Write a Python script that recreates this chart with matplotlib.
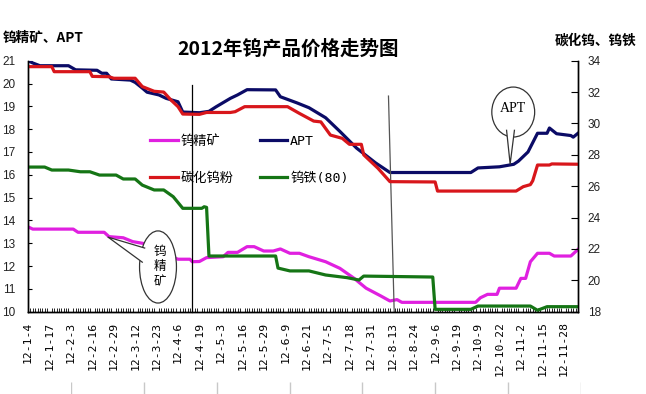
import matplotlib
matplotlib.use('Agg')
import matplotlib.pyplot as plt
from matplotlib.patches import Ellipse, Polygon

# trading-day index -> price
conc_idx = [0, 2, 19, 21, 32, 34, 40, 44, 48, 52, 58, 63, 68, 69, 72, 75, 82, 84, 88, 92, 95, 99, 103, 106,
            110, 114, 118, 125, 131, 137, 142, 148, 152, 155, 157, 188, 190, 193, 197, 198, 205, 207, 209,
            211, 214, 219, 221, 228, 231]
conc = [13.72, 13.62, 13.62, 13.48, 13.48, 13.29, 13.24, 13.07, 13.0, 12.9, 12.5, 12.3, 12.3, 12.19, 12.2,
        12.37, 12.41, 12.6, 12.6, 12.85, 12.85, 12.66, 12.66, 12.75, 12.56, 12.56, 12.41, 12.19, 11.9, 11.46,
        11.03, 10.7, 10.47, 10.53, 10.41, 10.41, 10.61, 10.76, 10.76, 11.03, 11.03, 11.46, 11.46, 12.19,
        12.56, 12.56, 12.44, 12.44, 12.73]

apt_idx = [0, 2, 5, 17, 20, 29, 31, 33, 35, 43, 45, 48, 50, 55, 58, 63, 65, 72, 76, 79, 85, 88, 92, 104,
           106, 113, 118, 125, 131, 138, 146, 152, 186, 189, 198, 204, 206, 210, 214, 218, 219, 222, 228,
           229, 231]
apt = [21.0, 20.9, 20.78, 20.78, 20.6, 20.58, 20.45, 20.45, 20.2, 20.15, 20.05, 19.8, 19.62, 19.5, 19.35,
       19.2, 18.75, 18.72, 18.78, 18.98, 19.35, 19.5, 19.73, 19.72, 19.42, 19.15, 18.94, 18.5, 17.9, 17.17,
       16.52, 16.1, 16.1, 16.3, 16.35, 16.46, 16.6, 17.0, 17.82, 17.82, 18.05, 17.8, 17.72, 17.65, 17.82]

wc_idx = [0, 10, 11, 26, 27, 34, 36, 45, 48, 53, 57, 60, 63, 65, 72, 75, 85, 87, 91, 109, 114, 120, 123,
          127, 132, 135, 140, 141, 147, 152, 171, 172, 205, 208, 211, 212, 214, 219, 220, 231]
wc = [33.62, 33.62, 33.3, 33.3, 33.0, 32.98, 32.88, 32.88, 32.35, 32.05, 32.0, 31.5, 31.07, 30.6, 30.58,
      30.7, 30.7, 30.75, 31.07, 31.07, 30.64, 30.15, 30.1, 29.26, 29.05, 28.67, 28.67, 28.0, 27.14, 26.29,
      26.27, 25.69, 25.69, 25.97, 26.1, 26.35, 27.35, 27.35, 27.42, 27.4]

fe_idx = [0, 7, 10, 17, 22, 26, 30, 37, 40, 45, 48, 53, 57, 61, 65, 73, 74, 75, 76, 104, 105, 110, 118,
          125, 134, 139, 141, 170, 171, 186, 189, 211, 214, 218, 231]
fe = [27.22, 27.22, 27.03, 27.03, 26.92, 26.92, 26.71, 26.71, 26.46, 26.46, 26.07, 25.76, 25.76, 25.33,
      24.59, 24.59, 24.69, 24.65, 21.55, 21.55, 20.78, 20.6, 20.6, 20.34, 20.17, 20.02, 20.27, 20.21,
      18.15, 18.15, 18.36, 18.36, 18.09, 18.32, 18.32]

n_days = 232
date_labels = ['12-1-4', '12-1-17', '12-2-3', '12-2-16', '12-2-29', '12-3-12', '12-3-23', '12-4-6',
               '12-4-19', '12-5-3', '12-5-16', '12-5-29', '12-6-9', '12-6-21', '12-7-5', '12-7-18',
               '12-7-31', '12-8-13', '12-8-24', '12-9-6', '12-9-19', '12-10-9', '12-10-22', '12-11-2',
               '12-11-15', '12-11-28']

# the two hand-drawn marker lines (index, left-axis value)
mark1 = ([68.8, 68.8], [19.93, 10.0])
mark2 = ([151.4, 153.8], [19.45, 10.0])

c_conc = '#e020e0'
c_apt = '#0b0b66'
c_wc = '#d8161b'
c_fe = '#157515'

fig = plt.figure(figsize=(6.46, 3.94), dpi=100)
ax = fig.add_axes([28 / 646, 82.3 / 394, 550 / 646, 251 / 394])
ax2 = ax.twinx()

l_conc, = ax.plot(conc_idx, conc, color=c_conc, lw=2.3)
l_apt, = ax.plot(apt_idx, apt, color=c_apt, lw=2.3)
l_wc, = ax2.plot(wc_idx, wc, color=c_wc, lw=2.3)
l_fe, = ax2.plot(fe_idx, fe, color=c_fe, lw=2.3)

ax.plot(mark1[0], mark1[1], color='black', lw=0.9, clip_on=False)
ax.plot(mark2[0], mark2[1], color='#555555', lw=0.9, clip_on=False)

ax.set_xlim(0, n_days - 1)
ax.set_ylim(10, 21)
ax2.set_ylim(18, 34)
ax.set_yticks(range(10, 22))
ax2.set_yticks(range(18, 35, 2))
ax.set_xticks(range(0, 9 * len(date_labels), 9))
ax.set_xticklabels(date_labels, rotation=90, family='DejaVu Sans Mono', fontsize=8.2)
ax.set_xticks(range(n_days), minor=True)

for a in (ax, ax2):
    a.spines['top'].set_visible(False)
    a.spines['left'].set_linewidth(1.0)
    a.spines['right'].set_linewidth(1.0)
    a.spines['bottom'].set_linewidth(1.0)
ax.tick_params(axis='x', which='major', direction='in', length=0, pad=7)
ax.tick_params(axis='x', which='minor', direction='in', length=3, width=0.6)
ax.tick_params(axis='y', direction='in', length=3, pad=9, labelsize=8.5)
ax2.tick_params(axis='y', direction='in', length=5, pad=7, labelsize=8.5)
for lab in ax.get_yticklabels() + ax2.get_yticklabels():
    lab.set_family('Liberation Sans')
    lab.set_color('#222222')

leg = ax2.legend([l_conc, l_wc, l_apt, l_fe], ['钨精矿', '碳化钨粉', 'APT', '钨铁(80)'],
                 ncol=2, frameon=False, loc='upper left',
                 bbox_to_anchor=(150 / 646, (394 - 135) / 394), bbox_transform=fig.transFigure,
                 borderaxespad=0, borderpad=0, handlelength=2.1, handletextpad=0.2,
                 columnspacing=2.0, labelspacing=1.8,
                 prop={'family': ['DejaVu Sans Mono', 'Noto Sans CJK SC'], 'size': 9.5})

# callout for APT
e1 = Ellipse((203.8, 18.75), 18, 2.19, facecolor='white', edgecolor='#333333', lw=0.9,
             transform=ax.transData, zorder=5)
ax2.add_patch(e1)
ax2.add_patch(Polygon([(201.0, 17.95), (204.3, 17.95), (202.5, 16.47)], closed=True,
                      facecolor='white', edgecolor='none', transform=ax.transData, zorder=6))
ax2.plot([201.0, 202.5, 204.3], [17.95, 16.47, 17.95], color='#333333', lw=0.9,
         transform=ax.transData, zorder=7)
ax2.text(203.8, 18.9, 'APT', ha='center', va='center', family='Liberation Serif', fontsize=10,
         transform=ax.transData, zorder=8)

# callout for 钨精矿
e2 = Ellipse((54.6, 11.96), 15.5, 3.16, facecolor='white', edgecolor='#333333', lw=0.9,
             transform=ax.transData, zorder=5)
ax2.add_patch(e2)
ax2.add_patch(Polygon([(49.0, 12.79), (48.0, 12.17), (33.6, 13.27)], closed=True,
                      facecolor='white', edgecolor='none', transform=ax.transData, zorder=6))
ax2.plot([49.0, 33.6, 48.0], [12.79, 13.27, 12.17], color='#333333', lw=0.9,
         transform=ax.transData, zorder=7)
ax2.text(55.2, 11.96, '钨\n精\n矿', ha='center', va='center', family='Noto Sans CJK SC', fontsize=9,
         linespacing=1.2, transform=ax.transData, zorder=8)

fig.text(288 / 646, 1 - 49 / 394, '2012年钨产品价格走势图', ha='center', va='center',
         family='Noto Sans CJK SC', fontweight='bold', fontsize=14)
fig.text(3 / 646, 1 - 38 / 394, '钨精矿、APT', ha='left', va='center',
         family=['Noto Sans CJK SC'], fontweight='bold', fontsize=9.8)
fig.text(636 / 646, 1 - 41 / 394, '碳化钨、钨铁', ha='right', va='center',
         family=['Noto Sans CJK SC'], fontweight='bold', fontsize=9.8)

# faint tick strip along the bottom edge
deco = fig.add_axes([71 / 646, 0, 510 / 646, 12 / 394])
deco.axis('off')
deco.set_xlim(0, 7)
deco.set_ylim(0, 1)
deco.vlines(range(8), 0, 1, color='#c8c8c8', lw=1)

fig.savefig('out.png', dpi=100)
